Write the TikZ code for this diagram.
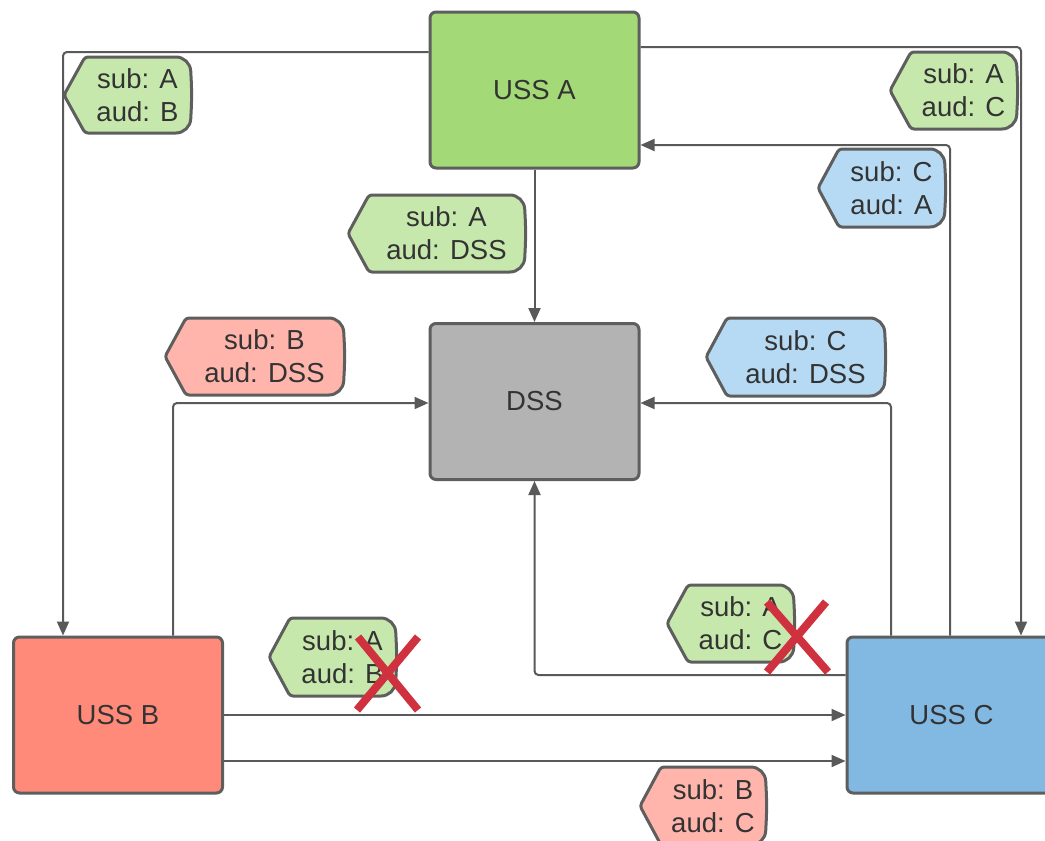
\documentclass[tikz,border=0pt]{standalone}
\usepackage{fontspec}
\setmainfont{Liberation Sans}
\usetikzlibrary{arrows.meta}

\definecolor{edgegray}{HTML}{5E5E5E}
\definecolor{linegray}{HTML}{595959}
\definecolor{txt}{HTML}{333333}
\definecolor{ussA}{HTML}{A3D977}
\definecolor{ussB}{HTML}{FF8A7A}
\definecolor{ussC}{HTML}{82B9E3}
\definecolor{dss}{HTML}{B3B3B3}
\definecolor{tagA}{HTML}{C7E8AC}
\definecolor{tagB}{HTML}{FFB5AB}
\definecolor{tagC}{HTML}{B6DAF3}
\definecolor{cross}{HTML}{D0313E}

\tikzset{
  box/.style={draw=edgegray, line width=3pt, rounded corners=6pt,
    minimum width=209pt, minimum height=156pt, inner sep=0pt,
    text=txt, font=\fontsize{27.5}{33}\selectfont},
  conn/.style={draw=linegray, line width=2pt, rounded corners=4pt,
    -{Triangle[length=14pt,width=12pt]}},
  tagline/.style={draw=edgegray, line width=3pt, line join=round},
  tagtext/.style={text=txt, align=center, inner sep=0pt,
    font=\fontsize{27.5}{33}\selectfont},
  crossline/.style={draw=cross, line width=8pt}
}

% message tag: name, left x, top y, right x, bottom y, fill, text
\newcommand\msgtag[7]{%
  \draw[tagline, fill=#6, rounded corners=3pt]
    (#2,{(#3+#5)/2}) -- (#2+21,#3) [rounded corners=14pt] -- (#4-2,#3)
    -- (#4,{(#3+#5)/2}) -- (#4-2,#5) [rounded corners=3pt] -- (#2+21,#5) -- cycle;
  \node[tagtext] (#1) at ({(#2+21+#4)/2-1},{(#3+#5)/2}) {#7};
}

\begin{document}
\begin{tikzpicture}[x=1pt,y=-1pt]
\useasboundingbox (0,0) rectangle (1045,841);

% services
\node[box, fill=ussA] (A) at (534.5,90) {USS A};
\node[box, fill=dss]  (D) at (534.5,401.5) {DSS};
\node[box, fill=ussB] (B) at (118,715) {USS B};
\node[box, fill=ussC] (C) at (951.5,715) {USS C};

% connectors
\coordinate (ab) at (63,52);
\draw[conn] (A.west |- ab) -- (ab) -- (B.north -| ab);
\coordinate (ac) at (1021,47);
\draw[conn] (A.east |- ac) -- (ac) -- (C.north -| ac);
\coordinate (ca) at (950,145);
\draw[conn] (C.north -| ca) -- (ca) -- (A.east |- ca);
\draw[conn] (A.south) -- (D.north);
\coordinate (bd) at (173,403);
\draw[conn] (B.north -| bd) -- (bd) -- (D.west |- bd);
\coordinate (cd) at (891,403);
\draw[conn] (C.north -| cd) -- (cd) -- (D.east |- cd);
\coordinate (cd2) at (0,675);
\draw[conn] (C.west |- cd2) -- (D.south |- cd2) -- (D.south);
\coordinate (bc1) at (0,715);
\draw[conn] (B.east |- bc1) -- (C.west |- bc1);
\coordinate (bc2) at (0,761);
\draw[conn] (B.east |- bc2) -- (C.west |- bc2);

% token tags
\msgtag{t1}{64}{57}{192}{133}{tagA}{sub: A\\aud: B}
\msgtag{t2}{890}{52}{1018}{129}{tagA}{sub: A\\aud: C}
\msgtag{t3}{818}{149}{946}{227}{tagC}{sub: C\\aud: A}
\msgtag{t4}{348}{195}{526}{272}{tagA}{sub: A\\aud: DSS}
\msgtag{t5}{165}{318}{345}{395}{tagB}{sub: B\\aud: DSS}
\msgtag{t6}{706}{318}{886}{396}{tagC}{sub: C\\aud: DSS}
\msgtag{t7}{667}{585}{795}{662}{tagA}{sub: A\\aud: C}
\msgtag{t8}{269}{618}{397}{696}{tagA}{sub: A\\aud: B}
\msgtag{t9}{640}{767}{767}{845}{tagB}{sub: B\\aud: C}

% rejected tokens
\draw[crossline] (358,637) -- (418,710);
\draw[crossline] (418,637) -- (357,710);
\draw[crossline] (767,602) -- (828,672);
\draw[crossline] (826,602) -- (767,672);
\end{tikzpicture}
\end{document}
